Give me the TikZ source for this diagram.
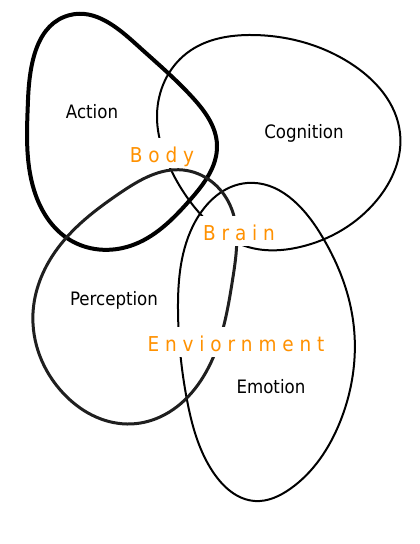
\documentclass[tikz,border=0pt]{standalone}
\usepackage{fontspec}
\usetikzlibrary{hobby}
\setmainfont{DejaVu Sans Condensed}
\definecolor{labelorange}{RGB}{255,145,0}
\begin{document}
\begin{tikzpicture}[x=1pt,y=-1pt,use Hobby shortcut,
	area/.style={font=\fontsize{18.5}{20}\selectfont},
	link/.style={font=\fontsize{20.5}{22}\selectfont, text=labelorange, fill=white,
		anchor=base, inner xsep=3pt, inner ysep=3pt, text height=21pt, text depth=3pt}]
	\useasboundingbox (0,0) rectangle (420,544);
	% action
	\draw[line width=4pt, closed=true] (70,15) .. (137,45) .. (193,98) .. (217,145)
		.. (190,200) .. (130,246) .. (70,240) .. (34,190) .. (28,100);
	% cognition
	\draw[line width=2pt, closed=true] (253,35) .. (350,63) .. (400,133) .. (377,200)
		.. (300,247) .. (245,246) .. (204,218) .. (172,172) .. (157,115) .. (187,53);
	% emotion
	\draw[line width=2pt, closed=true] (247,183) .. (320,233) .. (353,320) .. (340,422)
		.. (290,489) .. (255,501) .. (213,472) .. (187,400) .. (178,310) .. (195,222);
	% perception
	\draw[line width=3pt, black!88, closed=true] (183,170) .. (230,205) .. (233,277)
		.. (213,358) .. (160,417) .. (127,424) .. (63,393) .. (33,313) .. (55,252) .. (120,193);

	\node[area] (action) at (92,112) {Action};
	\node[area] (cognition) at (304,133) {Cognition};
	\node[area] (perception) at (114,300) {Perception};
	\node[area] (emotion) at (271,387) {Emotion};

	\node[link] (body) at (162,162) {B o d y};
	\node[link] (brain) at (239,240) {B r a i n};
	\node[link] (env) at (236,351) {E n v i o r n m e n t};
\end{tikzpicture}
\end{document}
